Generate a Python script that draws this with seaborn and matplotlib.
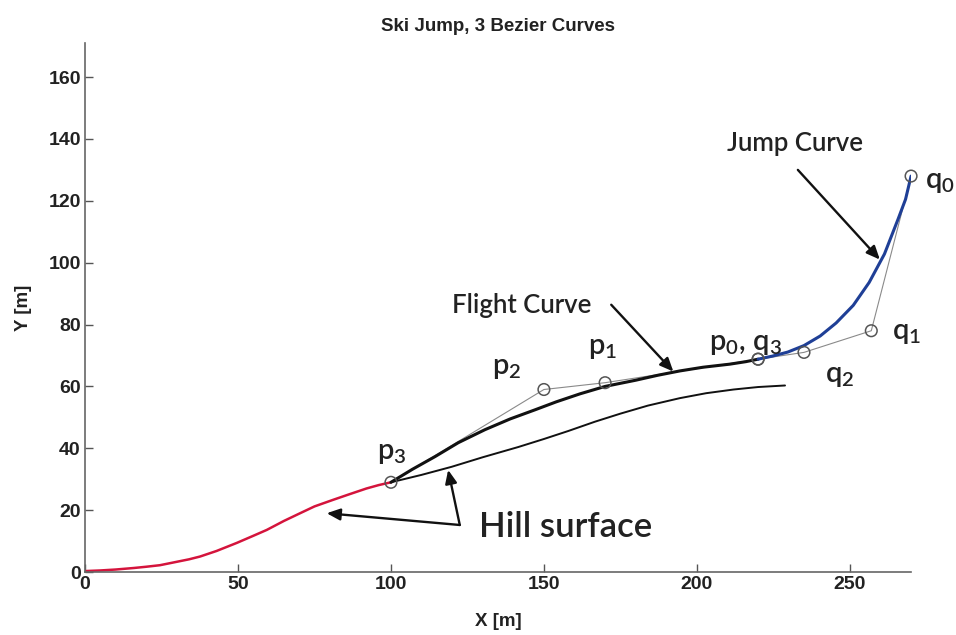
import matplotlib
matplotlib.use("Agg")
import matplotlib.pyplot as plt
import seaborn as sns
import pandas as pd

# ---- data ----
hill_red_x = [0, 5, 10, 16, 20, 24.5, 30, 34, 37.6, 43, 49.6, 55, 59.4, 65, 70.3, 75, 81, 86, 92, 96, 100]
hill_red_y = [0.3, 0.5, 0.8, 1.3, 1.7, 2.2, 3.3, 4.1, 5.0, 6.8, 9.4, 11.7, 13.6, 16.5, 19.0, 21.2, 23.3, 25.0, 27.0, 28.1, 29.0]

surface_x = [100, 110, 119.8, 130, 141.6, 150, 158, 166.7, 175, 184, 194.4, 203, 212, 220, 228.8]
surface_y = [29.0, 31.4, 34.0, 37.1, 40.4, 43.0, 45.6, 48.6, 51.2, 53.8, 56.2, 57.8, 59.0, 59.8, 60.3]

flight_x = [100, 107, 114.4, 122, 130.7, 139, 147, 154, 161.8, 170, 180, 187.2, 194.4, 202, 210.8, 216, 220]
flight_y = [29.0, 33.2, 37.3, 41.8, 46.0, 49.5, 52.4, 55.0, 57.6, 60.0, 62.0, 63.6, 65.0, 66.2, 67.2, 68.0, 68.8]

jump_x = [220, 224.7, 229.7, 235, 240.3, 245.5, 251.1, 256.3, 261.3, 265.8, 268.2, 270]
jump_y = [68.8, 69.8, 71.1, 73.2, 76.3, 80.5, 86.2, 93.6, 102.8, 114.2, 120.5, 128.0]

p_labels = ["p0", "p1", "p2", "p3"]
p_x = [220, 170, 150, 100]
p_y = [68.8, 61.2, 59.0, 29.0]

q_labels = ["q0", "q1", "q2", "q3"]
q_x = [270, 257, 235, 220]
q_y = [128.0, 78.0, 71.0, 68.8]

x_ticks = [0, 50, 100, 150, 200, 250]
y_ticks = [0, 20, 40, 60, 80, 100, 120, 140, 160]

title = "Ski Jump, 3 Bezier Curves"

# ---- style ----
sns.set_style("ticks")
plt.rcParams["font.family"] = ["Liberation Sans", "DejaVu Sans"]
plt.rcParams["mathtext.fontset"] = "custom"
plt.rcParams["mathtext.rm"] = "Lato:semibold"

fig = plt.figure(figsize=(9.56, 6.35), dpi=100)
ax = fig.add_axes([0.0889, 0.0992, 0.8641, 0.8330])

# control polygons
sns.lineplot(x=p_x, y=p_y, sort=False, estimator=None, color="#8a8a8a", lw=0.8, ax=ax)
sns.lineplot(x=q_x, y=q_y, sort=False, estimator=None, color="#8a8a8a", lw=0.8, ax=ax)

# curves
sns.lineplot(x=surface_x, y=surface_y, sort=False, estimator=None, color="#111111", lw=1.4, ax=ax)
sns.lineplot(x=hill_red_x, y=hill_red_y, sort=False, estimator=None, color="#d4143c", lw=1.8, ax=ax)
sns.lineplot(x=flight_x, y=flight_y, sort=False, estimator=None, color="#111111", lw=2.2, ax=ax)
sns.lineplot(x=jump_x, y=jump_y, sort=False, estimator=None, color="#1f3f96", lw=2.2, ax=ax)

# control point markers
ax.scatter(p_x + q_x, p_y + q_y, s=70, facecolors="none", edgecolors="#555555",
           linewidths=1.1, zorder=5, clip_on=False)

ax.set_xlim(0, 270)
ax.set_ylim(0, 171)
ax.set_xticks(x_ticks)
ax.set_yticks(y_ticks)
ax.tick_params(direction="in", length=6, width=1, colors="#555555",
               labelcolor="#222222", labelsize=14, pad=3)
for lab in ax.get_xticklabels() + ax.get_yticklabels():
    lab.set_fontweight("bold")
sns.despine(ax=ax)
for s in ("left", "bottom"):
    ax.spines[s].set_color("#666666")
    ax.spines[s].set_linewidth(1.2)

ax.set_xlabel("X [m]", fontsize=13.5, fontweight="bold", color="#222222", labelpad=14)
ax.set_ylabel("Y [m]", fontsize=13.5, fontweight="bold", color="#222222", labelpad=12)
ax.set_title(title, fontsize=13.5, fontweight="bold", color="#222222", pad=9)

lab_font = dict(family=["Lato", "DejaVu Sans"], fontweight="semibold", color="#222222", fontsize=21)
def sub(base, idx):
    return base + r"$_{\mathregular{" + idx + "}}$"

ax.text(100.3, 38.5, sub("p", "3"), ha="center", va="center", **lab_font)
ax.text(137.9, 66, sub("p", "2"), ha="center", va="center", **lab_font)
ax.text(169.3, 72.5, sub("p", "1"), ha="center", va="center", **lab_font)
ax.text(216, 73.6, sub("p", "0") + ", " + sub("q", "3"), ha="center", va="center", **lab_font)
ax.text(279.5, 126, sub("q", "0"), ha="center", va="center", clip_on=False, **lab_font)
ax.text(268.6, 77.3, sub("q", "1"), ha="center", va="center", **lab_font)
ax.text(246.7, 63.3, sub("q", "2"), ha="center", va="center", **lab_font)

txt_font = dict(family=["Lato", "DejaVu Sans"], fontweight="semibold", color="#222222")
ax.text(142.7, 86, "Flight Curve", ha="center", va="center", fontsize=18.5, **txt_font)
ax.text(232, 138.6, "Jump Curve", ha="center", va="center", fontsize=18.5, **txt_font)
ax.text(157, 14.6, "Hill surface", ha="center", va="center", fontsize=25, **txt_font)

arrow = dict(arrowstyle="-|>,head_length=0.8,head_width=0.35", color="#111111", lw=1.7,
             shrinkA=0, shrinkB=0)
ax.annotate("", xy=(192.3, 64.8), xytext=(172, 86.4), arrowprops=arrow)
ax.annotate("", xy=(259.8, 101), xytext=(233, 130), arrowprops=arrow)
ax.annotate("", xy=(79, 19), xytext=(122.5, 15.2), arrowprops=arrow)
ax.annotate("", xy=(118.7, 33), xytext=(122.5, 15.2), arrowprops=arrow)

fig.savefig("out.png", dpi=100)
